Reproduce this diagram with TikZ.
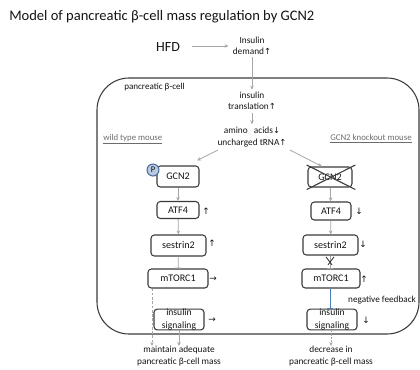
\documentclass[tikz,border=0pt]{standalone}
\usepackage{fontspec}
\setmainfont{Carlito}
\newfontfamily\arw{DejaVu Sans}
\usetikzlibrary{arrows.meta,calc}
\definecolor{conn}{HTML}{A6A6A6}
\definecolor{ink}{HTML}{141414}
\definecolor{edge}{HTML}{3A3A3A}
\definecolor{fb}{HTML}{4A7EBB}
\definecolor{pfill}{HTML}{B9C9E2}
\definecolor{pline}{HTML}{4A6C9B}
\newcommand{\up}{{\arw\scalebox{0.9}{↑}}}
\newcommand{\dn}{{\arw\scalebox{0.9}{↓}}}
\newcommand{\rt}{{\arw\scalebox{0.9}{→}}}
\tikzset{
  small/.style={font=\fontsize{7}{8.6}\selectfont, text=ink, align=center, inner sep=0pt},
  stepbox/.style={draw=edge, line width=0.8pt, rounded corners=2.5pt,
    font=\fontsize{7.6}{8}\selectfont, text=ink, align=center, inner sep=0pt},
  twoline/.style={font=\fontsize{7.2}{9.4}\selectfont},
  conn/.style={draw=conn, line width=0.6pt, -{Stealth[length=3pt,width=2.6pt]}},
  inhib/.style={draw=conn, line width=0.6pt, -{Bar[width=5pt]}},
  sign/.style={font=\fontsize{7.4}{7.4}\selectfont, text=ink, inner sep=0pt},
  mouse/.style={font=\fontsize{6.6}{7}\selectfont, text=gray!85!black, inner sep=0pt},
}
\begin{document}
\begin{tikzpicture}[x=0.75pt,y=-0.75pt]
\useasboundingbox (0,0) rectangle (420,369);

% title
\node[anchor=west, inner sep=0pt, text=ink, font=\fontsize{10.9}{13}\selectfont] (title) at (9,17)
  {Model of pancreatic β-cell mass regulation by GCN2};

% beta-cell outline
\draw[edge, line width=0.8pt, rounded corners=24pt] (97,78) rectangle (419,334);
\node[anchor=west, inner sep=0pt, text=ink, font=\fontsize{6.8}{7}\selectfont] (cell) at (124,87) {pancreatic β-cell};

% upstream chain
\node[inner sep=0pt, text=ink, font=\fontsize{10.5}{12}\selectfont] (hfd) at (168,47) {HFD};
\node[small] (demand) at (252,46) {Insulin\\demand\up};
\node[small] (transl) at (252,101) {insulin\\translation\up};
\node[small] (aa) at (252,137) {amino\hspace{3pt} acids\dn\\uncharged tRNA\up};
\draw[conn] ([xshift=9pt,yshift=0.75pt]hfd.east) -- ([xshift=-3pt,yshift=0.75pt]hfd.east -| demand.west);
\draw[conn] ([yshift=-1.5pt]demand.south) -- ([yshift=1.5pt]transl.north);
\draw[conn] ([yshift=-2pt]transl.south) -- ([yshift=2pt]aa.north);

% genotype labels
\node[mouse, anchor=west] (wt) at (103,139) {\underline{wild type mouse}};
\node[mouse, anchor=west] (ko) at (330,139) {\underline{GCN2 knockout mouse}};

% wild type pathway
\node[stepbox, minimum width=31.5pt, minimum height=15.75pt] (gL) at (178,176.5) {GCN2};
\node[circle, draw=pline, fill=pfill, line width=0.8pt, inner sep=0pt, minimum size=9pt,
      font=\fontsize{6.5}{6.5}\selectfont, text=ink] (p) at (153,170) {P};
\node[stepbox, minimum width=31.5pt, minimum height=12.75pt] (aL) at (178,210) {ATF4};
\node[stepbox, minimum width=41.25pt, minimum height=15.75pt] (sL) at (178.5,245.5) {sestrin2};
\node[stepbox, minimum width=45pt, minimum height=14.25pt] (mL) at (178,278.5) {mTORC1};
\node[stepbox, twoline, minimum width=37.5pt, minimum height=14.25pt] (iL) at (179,319.5) {insulin\\signaling};
\node[sign] (aLm) at (206,211) {\up};
\node[sign] (sLm) at (212,243) {\up};
\node[sign] (mLm) at (213,279) {\rt};
\node[sign] (iLm) at (212,320) {\rt};
\node[small] (keep) at (179,356) {maintain adequate\\pancreatic β-cell mass};
\coordinate (keepL) at (152,346);
\coordinate (keepR) at (179,346);

\draw[conn] ([xshift=-25.5pt,yshift=-2.25pt]aa.south) -- ([xshift=14.25pt,yshift=3.75pt]gL.north);
\draw[conn] (gL) -- (aL);
\draw[conn] (aL) -- (sL);
\draw[inhib] (sL) -- (mL);
\draw[conn, dash pattern=on 2pt off 1.2pt] (mL.south -| keepL) -- (keepL);
\draw[conn] (iL.south) -- (keepR);

% knockout pathway
\node[stepbox, minimum width=33pt, minimum height=15pt] (gR) at (330,177) {GCN2};
\draw[edge, line width=0.8pt] ([shift={(-17.5pt,9pt)}]gR.center) -- ([shift={(19pt,-9.4pt)}]gR.center);
\draw[edge, line width=0.8pt] ([shift={(19pt,9pt)}]gR.center) -- ([shift={(-17.5pt,-9.4pt)}]gR.center);
\node[stepbox, minimum width=30pt, minimum height=13.5pt] (aR) at (331,211) {ATF4};
\node[stepbox, minimum width=41.25pt, minimum height=15pt] (sR) at (330.5,245) {sestrin2};
\node[stepbox, minimum width=43.5pt, minimum height=14.25pt] (mR) at (331,278.5) {mTORC1};
\node[stepbox, twoline, minimum width=37.5pt, minimum height=14.25pt] (iR) at (332,319.5) {insulin\\signaling};
\node[sign] (aRm) at (359,211) {\dn};
\node[sign] (sRm) at (363,244) {\dn};
\node[sign] (mRm) at (364,279) {\up};
\node[sign] (iRm) at (366,320) {\dn};
\node[small, font=\fontsize{6.9}{7}\selectfont] (nfb) at (382,300) {negative feedback};
\node[small] (loss) at (331,356) {decrease in\\pancreatic β-cell mass};
\coordinate (lossT) at (331,346);

\draw[conn] ([xshift=28.5pt,yshift=-2.25pt]aa.south) -- ([xshift=-6pt]gR.north);
\draw[conn] (gR) -- (aR);
\draw[conn] (aR) -- (sR);
\draw[inhib] (sR.south -| 330,0) -- (mR.north -| 330,0);
\draw[edge, line width=0.7pt] ([shift={(-3pt,-1pt)}]sR.south -| 330,0) -- ++(6,8)
      ([shift={(3pt,-1pt)}]sR.south -| 330,0) -- ++(-6,8);
\draw[draw=fb, line width=0.7pt, -{Bar[width=5pt]}] (mR.south -| 330,0) -- (iR.north -| 330,0);
\draw[conn, dash pattern=on 1.5pt off 1pt] (iR.south -| lossT) -- (lossT);
\end{tikzpicture}
\end{document}
